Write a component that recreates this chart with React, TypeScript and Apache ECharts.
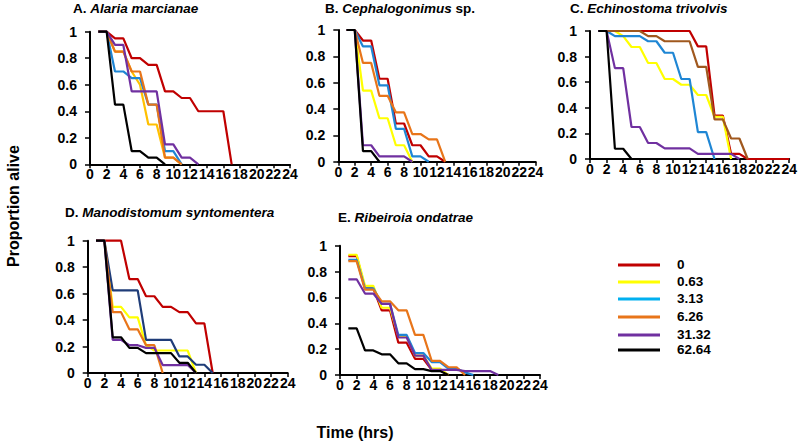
import React, { useEffect, useRef } from "react";
import * as echarts from "echarts";

const HOURS = [1, 2, 3, 4, 5, 6, 7, 8, 9, 10, 11, 12, 13, 14, 15, 16, 17, 18, 19, 20, 21, 22, 23, 24];
const CONCENTRATIONS = ["0", "0.63", "3.13", "6.26", "31.32", "62.64"];
const LEGEND_COLORS = ["#c00000", "#ffff00", "#00b0f0", "#e8751a", "#7030a0", "#000000"];

// A. Alaria marcianae
const A_0 = [1, 1, 0.95, 0.95, 0.8, 0.8, 0.75, 0.75, 0.55, 0.55, 0.5, 0.5, 0.4, 0.4, 0.4, 0.4, 0];
const A_063 = [1, 1, 0.85, 0.85, 0.7, 0.6, 0.3, 0.3, 0.05, 0.05, 0];
const A_313 = [1, 1, 0.7, 0.7, 0.65, 0.65, 0.45, 0.45, 0.1, 0.1, 0];
const A_626 = [1, 1, 0.85, 0.85, 0.7, 0.7, 0.45, 0.45, 0.05, 0.05, 0];
const A_3132 = [1, 1, 0.9, 0.9, 0.55, 0.55, 0.55, 0.55, 0.15, 0.15, 0.05, 0.05, 0];
const A_6264 = [1, 1, 0.45, 0.45, 0.1, 0.1, 0.05, 0.05, 0];

// B. Cephalogonimus sp.
const B_0 = [1, 1, 0.92, 0.92, 0.63, 0.63, 0.29, 0.29, 0.125, 0.125, 0.04, 0.04, 0];
const B_063 = [1, 1, 0.54, 0.54, 0.33, 0.33, 0.125, 0.125, 0];
const B_313 = [1, 1, 0.875, 0.875, 0.58, 0.58, 0.25, 0.25, 0.04, 0.04, 0];
const B_626 = [1, 1, 0.75, 0.75, 0.5, 0.5, 0.375, 0.375, 0.21, 0.21, 0.17, 0.17, 0];
const B_3132 = [1, 1, 0.125, 0.125, 0.04, 0.04, 0.04, 0.04, 0];
const B_6264 = [1, 1, 0.08, 0.08, 0];

// C. Echinostoma trivolvis
const C_0 = [1, 1, 1, 1, 1, 1, 1, 1, 1, 1, 1, 1, 0.88, 0.88, 0.34, 0.34, 0.04, 0.04, 0, 0, 0, 0, 0, 0];
const C_063 = [1, 1, 1, 0.96, 0.875, 0.875, 0.75, 0.75, 0.625, 0.625, 0.58, 0.58, 0.5, 0.5, 0.33, 0.33, 0];
const C_313 = [1, 1, 0.96, 0.96, 0.96, 0.96, 0.92, 0.92, 0.83, 0.83, 0.625, 0.625, 0.21, 0.21, 0];
const C_626 = [1, 1, 1, 1, 1, 1, 0.96, 0.96, 0.92, 0.92, 0.92, 0.92, 0.72, 0.72, 0.31, 0.31, 0.16, 0.16, 0];
const C_3132 = [1, 1, 0.71, 0.71, 0.25, 0.25, 0.125, 0.125, 0.083, 0.083, 0.083, 0.083, 0.04, 0.04, 0.04, 0.04, 0.04, 0];
const C_6264 = [1, 1, 0.08, 0.08, 0];

// D. Manodistomum syntomentera
const D_0 = [1, 1, 1, 1, 0.71, 0.71, 0.58, 0.58, 0.5, 0.5, 0.46, 0.46, 0.375, 0.375, 0];
const D_063 = [1, 1, 0.5, 0.5, 0.42, 0.42, 0.21, 0.17, 0.17, 0.17, 0.17, 0.17, 0];
const D_313 = [1, 1, 0.625, 0.625, 0.625, 0.625, 0.25, 0.25, 0.25, 0.25, 0.125, 0.125, 0.0625, 0.0625, 0];
const D_626 = [1, 1, 0.46, 0.46, 0.33, 0.33, 0.21, 0.21, 0];
const D_3132 = [1, 1, 0.25, 0.25, 0.21, 0.21, 0.19, 0.19, 0.06, 0.06, 0.06, 0.06, 0];
const D_6264 = [1, 1, 0.27, 0.27, 0.19, 0.19, 0.15, 0.15, 0.15, 0.15, 0.077, 0.077, 0];

// E. Ribeiroia ondatrae
const E_0 = [0.92, 0.92, 0.67, 0.67, 0.5, 0.5, 0.25, 0.25, 0.125, 0.125, 0.04, 0.04, 0];
const E_063 = [0.93, 0.93, 0.69, 0.69, 0.52, 0.52, 0.3, 0.3, 0.15, 0.15, 0.05, 0.05, 0];
const E_313 = [0.89, 0.89, 0.67, 0.67, 0.55, 0.55, 0.31, 0.31, 0.17, 0.17, 0.1, 0.1, 0.05, 0.05, 0.02, 0];
const E_626 = [0.88, 0.88, 0.66, 0.66, 0.57, 0.57, 0.5, 0.5, 0.31, 0.31, 0.11, 0.11, 0.06, 0.06, 0];
const E_3132 = [0.74, 0.74, 0.63, 0.63, 0.55, 0.55, 0.29, 0.29, 0.15, 0.15, 0.04, 0.04, 0.04, 0.04, 0.03, 0.03, 0.03, 0.03, 0];
const E_6264 = [0.36, 0.36, 0.19, 0.19, 0.16, 0.16, 0.09, 0.09, 0.045, 0.045, 0.03, 0.03, 0];

const FONT = "Liberation Sans, Arial, sans-serif";

const PANELS = [
  {
    label: "A. ", species: "Alaria marcianae", suffix: "",
    grid: { left: 90, top: 31.7, width: 200, height: 132.6 }, title: [73, 1],
    series: [A_0, A_063, A_313, A_626, A_3132, A_6264],
    colors: ["#c00000", "#ffc000", "#1f86d4", "#e8751a", "#7030a0", "#000000"],
  },
  {
    label: "B. ", species: "Cephalogonimus", suffix: " sp.",
    grid: { left: 338.3, top: 30, width: 197.3, height: 131.7 }, title: [325, 1],
    series: [B_0, B_063, B_313, B_626, B_3132, B_6264],
    colors: ["#c00000", "#ffff00", "#1f86d4", "#e8751a", "#7030a0", "#000000"],
  },
  {
    label: "C. ", species: "Echinostoma trivolvis", suffix: "",
    grid: { left: 590, top: 31, width: 202, height: 128 }, title: [570, 1],
    series: [C_0, C_063, C_313, C_626, C_3132, C_6264],
    colors: ["#c00000", "#ffff00", "#1f86d4", "#a0581e", "#7030a0", "#000000"],
  },
  {
    label: "D. ", species: "Manodistomum syntomentera", suffix: "",
    grid: { left: 87.7, top: 240.7, width: 200, height: 132.3 }, title: [65, 205],
    series: [D_0, D_063, D_313, D_626, D_3132, D_6264],
    colors: ["#c00000", "#ffff00", "#1f3c78", "#e8751a", "#7030a0", "#000000"],
  },
  {
    label: "E. ", species: "Ribeiroia ondatrae", suffix: "",
    grid: { left: 340, top: 245.7, width: 200, height: 129.3 }, title: [338, 210],
    series: [E_0, E_063, E_313, E_626, E_3132, E_6264],
    colors: ["#c00000", "#ffff00", "#1f86d4", "#e8751a", "#7030a0", "#000000"],
  },
];

const LEGEND_Y = [265, 282, 299, 317, 335, 350];

function buildOption() {
  const grids: any[] = [];
  const xAxes: any[] = [];
  const yAxes: any[] = [];
  const series: any[] = [];
  const graphics: any[] = [];

  PANELS.forEach((p, i) => {
    grids.push({ ...p.grid });
    xAxes.push({
      type: "value", gridIndex: i, min: 0, max: 24, interval: 2,
      axisLine: { show: true, onZero: false, lineStyle: { color: "#000", width: 2 } },
      axisTick: { show: true, length: 4, lineStyle: { color: "#000", width: 1.5 } },
      axisLabel: { color: "#000", fontWeight: "bold", fontSize: 14, fontFamily: FONT, margin: 3, showMinLabel: true, showMaxLabel: true },
      splitLine: { show: false },
    });
    yAxes.push({
      type: "value", gridIndex: i, min: 0, max: 1, interval: 0.2,
      axisLine: { show: true, onZero: false, lineStyle: { color: "#000", width: 2 } },
      axisTick: { show: true, length: 5, lineStyle: { color: "#000", width: 1.5 } },
      axisLabel: { color: "#000", fontWeight: "bold", fontSize: 14, fontFamily: FONT, margin: 13 },
      splitLine: { show: false },
    });
    p.series.forEach((vals, k) => {
      series.push({
        type: "line", name: CONCENTRATIONS[k], xAxisIndex: i, yAxisIndex: i,
        data: vals.map((v, j) => [HOURS[j], v]),
        showSymbol: false, symbol: "none",
        lineStyle: { color: p.colors[k], width: 2.2 },
        itemStyle: { color: p.colors[k] },
        clip: false, z: 3 + k,
      });
    });
    graphics.push({
      type: "text", left: p.title[0], top: p.title[1],
      style: {
        text: `{b|${p.label}}{i|${p.species}}{b|${p.suffix}}`,
        rich: {
          b: { fontSize: 13.5, fontWeight: "bold", fontFamily: FONT, fill: "#000" },
          i: { fontSize: 13.5, fontWeight: "bold", fontStyle: "italic", fontFamily: FONT, fill: "#000" },
        },
      },
    });
  });

  CONCENTRATIONS.forEach((c, k) => {
    graphics.push({
      type: "line",
      shape: { x1: 618, y1: LEGEND_Y[k], x2: 660, y2: LEGEND_Y[k] },
      style: { stroke: LEGEND_COLORS[k], lineWidth: 3 },
    });
    graphics.push({
      type: "text", left: 677, top: LEGEND_Y[k] - 8,
      style: { text: c, fontSize: 13.5, fontWeight: "bold", fontFamily: FONT, fill: "#000" },
    });
  });

  graphics.push({
    type: "text", x: 13, y: 206, rotation: Math.PI / 2,
    style: { text: "Proportion alive", fontSize: 16, fontWeight: "bold", fontFamily: FONT, fill: "#000", align: "center", verticalAlign: "middle" },
  });
  graphics.push({
    type: "text", x: 355, y: 432,
    style: { text: "Time (hrs)", fontSize: 16, fontWeight: "bold", fontFamily: FONT, fill: "#000", align: "center", verticalAlign: "middle" },
  });

  return {
    animation: false,
    backgroundColor: "#ffffff",
    textStyle: { fontFamily: FONT },
    grid: grids,
    xAxis: xAxes,
    yAxis: yAxes,
    series,
    graphic: graphics,
  };
}

export default function App() {
  const ref = useRef<HTMLDivElement>(null);
  useEffect(() => {
    if (!ref.current) return;
    const chart = echarts.init(ref.current, null, { renderer: "svg" });
    chart.setOption(buildOption() as any);
    return () => chart.dispose();
  }, []);
  return <div ref={ref} style={{ position: "absolute", left: 0, top: 0, width: 800, height: 448 }} />;
}
